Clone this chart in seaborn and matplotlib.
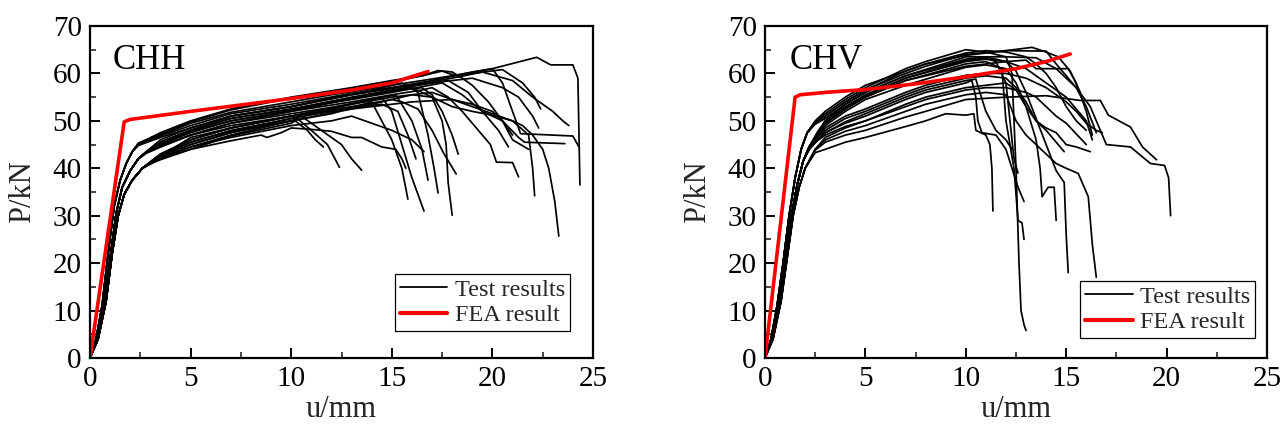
import matplotlib
matplotlib.use("Agg")
import matplotlib.pyplot as plt
from matplotlib.lines import Line2D
from matplotlib.ticker import MultipleLocator
import seaborn as sns
import pandas as pd

# ---------------- CHH panel: test curves (u in mm, P in kN) ----------------
chh_a_u = [0, 0.3, 0.6, 0.9, 1.2, 1.5, 1.8, 2.1, 2.4, 3.5, 5, 7, 10, 12, 15, 18, 20, 22.2, 22.9, 24.0, 24.25, 24.35]
chh_a_p = [0, 4, 11, 22, 32, 37.5, 41, 43.5, 45, 47, 49.5, 51.8, 54, 55.5, 57.5, 59.5, 61, 63.4, 61.8, 61.8, 59, 36.5]
chh_b_u = [0, 0.3, 0.6, 0.9, 1.2, 1.5, 1.8, 2.1, 2.4, 3.5, 5, 7, 10, 13, 15, 17, 19, 20, 20.5, 21, 21.4, 23, 24, 24.3]
chh_b_p = [0, 4, 11, 22, 32, 37.5, 41, 43.5, 45, 46.8, 49, 51.5, 53.5, 55.8, 57, 58.5, 60.3, 61, 58, 52, 47.3, 47, 46.8, 44.5]
chh_c_u = [0, 0.3, 0.6, 0.9, 1.2, 1.5, 1.8, 2.1, 2.4, 3.5, 5, 7, 10, 13, 15, 18, 19.5, 21, 22, 23, 23.5, 23.8]
chh_c_p = [0, 4, 11, 22, 32, 37.5, 41, 43.5, 44.8, 46.5, 48.5, 51, 53, 55.5, 56.8, 59, 60.3, 58.5, 55, 52, 50, 49]
chh_d_u = [0, 0.35, 0.7, 1.0, 1.3, 1.6, 2.0, 2.4, 2.8, 3.5, 5, 7, 10, 13, 15, 17.5, 18.5, 19.5, 20.5, 21.3, 21.6, 23.6]
chh_d_p = [0, 4, 11, 21, 30.5, 36, 39.5, 42, 43.5, 45.5, 48, 50.5, 52.5, 54.5, 56, 58, 55.5, 52, 50, 46.5, 45.5, 45.2]
chh_e_u = [0, 0.4, 0.8, 1.1, 1.4, 1.7, 2.1, 2.6, 3.2, 3.5, 5, 7, 10, 13, 15, 16, 17, 18, 19, 20, 21, 21.5, 22, 22.5, 22.8, 23.1, 23.3]
chh_e_p = [0, 4, 12, 22, 30, 34.5, 37.5, 40, 41.8, 42.5, 46.5, 48.5, 51, 53, 54.5, 55.5, 55, 53, 52, 51.2, 50, 49, 47, 44, 40, 33, 25.7]
chh_f_u = [0, 0.3, 0.6, 0.9, 1.2, 1.5, 1.8, 2.1, 2.4, 3.5, 5, 7, 10, 13, 15, 16.5, 17.5, 18.3, 19, 20.5, 21.5, 22.1, 22.4]
chh_f_p = [0, 4, 11, 22, 32, 37.5, 41, 43.5, 45.2, 47.5, 50, 52.5, 55, 57, 58.5, 59.5, 60.5, 59.3, 60, 60.8, 58, 55, 52.5]
chh_g_u = [0, 0.35, 0.7, 1.0, 1.3, 1.6, 2.0, 2.4, 2.8, 3.5, 5, 7, 10, 13, 15, 17, 19, 20.5, 21.3, 22, 22.3]
chh_g_p = [0, 4, 11, 21, 30.5, 36, 39.5, 42, 43.5, 45.5, 48, 50.5, 52.5, 55, 56.5, 58, 59, 57, 55, 51, 48.5]
chh_h_u = [0, 0.35, 0.7, 1.0, 1.3, 1.6, 2.0, 2.4, 2.8, 3.5, 5, 7, 10, 13, 15, 17, 18, 19, 20, 21, 21.8, 22, 22.1]
chh_h_p = [0, 4, 11, 21, 30.5, 36, 39.5, 42, 43.3, 44.8, 47, 49.5, 51.5, 53.5, 55, 56, 54.5, 53, 51.5, 50, 47, 40, 34.2]
chh_i_u = [0, 0.35, 0.7, 1.0, 1.3, 1.6, 2.0, 2.4, 2.8, 3.5, 5, 7, 10, 13, 15, 16.5, 17, 17.8, 18.5, 19.5, 19.9, 20.2, 21, 21.3]
chh_i_p = [0, 4, 11, 21, 30.5, 36, 39.5, 42, 43.3, 45, 47.5, 50, 52, 54, 55.5, 56.5, 57, 55, 52, 47, 45, 41.3, 41.2, 38.2]
chh_j_u = [0, 0.35, 0.7, 1.0, 1.3, 1.6, 2.0, 2.4, 2.8, 3.5, 5, 7, 10, 13, 15, 17, 17.8, 18.8, 19.5, 20.3, 20.8]
chh_j_p = [0, 4, 11, 21, 30.5, 36, 39.5, 42, 43.5, 46, 48.5, 51, 53, 55.5, 57, 58, 58.5, 56, 52, 48, 44.5]
chh_k_u = [0, 0.4, 0.8, 1.1, 1.4, 1.7, 2.1, 2.6, 3.2, 3.5, 5, 7, 10, 13, 15, 15.5, 16.3, 17, 17.6, 18.2]
chh_k_p = [0, 4, 12, 22, 30, 34.5, 37.5, 40, 41.8, 42.8, 45.5, 47.8, 50, 52.5, 54.5, 54, 52.5, 48, 43, 38.8]
chh_l_u = [0, 0.35, 0.7, 1.0, 1.3, 1.6, 2.0, 2.4, 2.8, 3.5, 5, 7, 10, 12, 14, 16, 17, 17.5, 17.7, 17.8, 18.0]
chh_l_p = [0, 4, 11, 21, 30.5, 36, 39.5, 42, 43.2, 44.5, 47, 49.5, 52, 53.8, 55.5, 57, 55, 50, 45, 37, 30.1]
chh_m_u = [0, 0.35, 0.7, 1.0, 1.3, 1.6, 2.0, 2.4, 2.8, 3.5, 5, 7, 10, 12, 14, 15.5, 16.3, 16.8, 17.1, 17.3]
chh_m_p = [0, 4, 11, 21, 30.5, 36, 39.5, 42, 43.5, 45.5, 48, 51, 53, 54.8, 56.5, 58, 56, 47, 40, 34.8]
chh_n_u = [0, 0.4, 0.8, 1.1, 1.4, 1.7, 2.1, 2.6, 3.2, 3.5, 5, 7, 10, 12, 14, 15.2, 16, 16.5, 16.8]
chh_n_p = [0, 4, 12, 22, 30, 34.5, 37.5, 40, 42, 43, 46, 48.5, 51, 52.8, 54.5, 55.5, 50, 44, 37.5]
chh_o_u = [0, 0.4, 0.8, 1.1, 1.4, 1.7, 2.1, 2.6, 3.2, 3.5, 5, 7, 10, 12, 13, 14, 15, 16, 16.6]
chh_o_p = [0, 4, 12, 22, 30, 34.5, 37.5, 40, 41.5, 42, 44.5, 46.5, 49, 50, 51, 49.5, 48, 46, 43.5]
chh_p_u = [0, 0.4, 0.8, 1.1, 1.4, 1.7, 2.1, 2.6, 3.2, 3.5, 5, 7, 10, 11.5, 13, 14.5, 15, 15.5, 16, 16.6]
chh_p_p = [0, 4, 12, 22, 30, 34.5, 37.5, 40, 42, 43, 46, 48.5, 51, 52, 53.5, 55, 52, 45, 38, 31]
chh_q_u = [0, 0.4, 0.8, 1.1, 1.4, 1.7, 2.1, 2.6, 3.2, 3.5, 5, 7, 10, 12, 14, 14.5, 15, 15.5, 15.8]
chh_q_p = [0, 4, 12, 22, 30, 34.5, 37.5, 40, 41.8, 42.5, 45, 47.5, 50, 51.5, 54, 50, 46, 40, 33.5]
chh_r_u = [0, 0.4, 0.8, 1.1, 1.4, 1.7, 2.1, 2.6, 3.2, 3.5, 5, 7, 10, 10.5, 11.5, 12.5, 13, 13.5]
chh_r_p = [0, 4, 12, 22, 30, 34.5, 37.5, 40, 41.8, 42.5, 45, 47.5, 50.5, 51, 48, 45, 42, 39.6]
chh_s_u = [0, 0.4, 0.8, 1.1, 1.4, 1.7, 2.1, 2.6, 3.2, 3.5, 5, 7, 10, 10.3, 11, 11.8, 12.4]
chh_s_p = [0, 4, 12, 22, 30, 34.5, 37.5, 40, 41.6, 42.3, 44.5, 47, 50, 50.5, 48, 45, 40.2]
chh_t_u = [0, 0.4, 0.8, 1.1, 1.4, 1.7, 2.1, 2.6, 3.2, 3.5, 5, 7, 10, 10.2, 10.8, 11.2, 11.6]
chh_t_p = [0, 4, 12, 22, 30, 34.5, 37.5, 40, 41.5, 42, 44, 46.8, 49.5, 50, 48, 46, 44.5]
chh_u_u = [0, 0.4, 0.8, 1.1, 1.4, 1.7, 2.1, 2.6, 3.2, 3.5, 5, 7, 8.5, 8.8, 9.5, 10, 11, 12, 13, 13.5, 14.5, 15.2, 15.5, 15.7]
chh_u_p = [0, 4, 12, 22, 30, 34.5, 37.5, 40, 41.3, 41.8, 44, 45.8, 47, 46.5, 47.5, 48.5, 48.2, 47.8, 46.5, 46.5, 44.5, 44, 42, 40]
chh_v_u = [0, 0.3, 0.6, 0.9, 1.2, 1.5, 1.8, 2.1, 2.4, 3.5, 5, 7, 10, 13, 15, 16.5, 17.3, 18, 18.5, 19, 19.8, 20.5, 21]
chh_v_p = [0, 4, 11, 22, 32, 37.5, 41, 43.5, 45.3, 47.2, 49.8, 52.3, 54.8, 56.8, 58.2, 59.5, 60.6, 60.3, 59, 57.5, 54, 50, 47]
chh_w_u = [0, 0.35, 0.7, 1.0, 1.3, 1.6, 2.0, 2.4, 2.8, 3.5, 5, 7, 10, 12, 14, 15.5, 16.5, 17, 17.5, 18, 18.3]
chh_w_p = [0, 4, 11, 21, 30.5, 36, 39.5, 42, 43.4, 45.2, 47.8, 50, 52.2, 54, 55.5, 56.5, 57, 55.5, 52, 47, 43]
chh_x_u = [0, 0.4, 0.8, 1.1, 1.4, 1.7, 2.1, 2.6, 3.2, 3.5, 5, 7, 10, 12, 13.5, 14.5, 15.3, 15.8, 16.2]
chh_x_p = [0, 4, 12, 22, 30, 34.5, 37.5, 40, 42, 42.8, 45.5, 48, 50.5, 52, 53, 53.5, 52, 47, 42]
chh_y_u = [0, 0.35, 0.7, 1.0, 1.3, 1.6, 2.0, 2.4, 2.8, 3.5, 5, 7, 10, 12, 14, 16, 18, 19, 20, 20.5, 21, 21.8]
chh_y_p = [0, 4, 11, 21, 30.5, 36, 39.5, 42, 43.2, 44.5, 47, 49, 51, 52, 53, 54, 54.5, 53.5, 52, 50, 46, 44]

# CHH FEA result
chh_fea_u = [0, 1.7, 2.0, 5, 10, 13, 15, 16.8]
chh_fea_p = [0, 49.8, 50.3, 52.0, 54.7, 56.5, 58.0, 60.4]

# ---------------- CHV panel: test curves ----------------
chv_v1_u = [0, 0.3, 0.6, 0.9, 1.2, 1.5, 1.8, 2.1, 2.5, 3, 4, 5, 7, 8, 10, 12, 13.3, 14, 14.6, 15.2, 15.7]
chv_v1_p = [0, 4, 11, 20, 30, 38, 44, 47.5, 50, 52, 55, 57.5, 60.5, 62, 63.8, 64.8, 65.5, 64.5, 63.5, 60.5, 56]
chv_v2_u = [0, 0.3, 0.6, 0.9, 1.2, 1.5, 1.8, 2.1, 2.5, 3, 4, 5, 7, 8, 10, 11, 12, 12.3, 12.4, 12.5, 12.65, 12.75, 12.9, 13.0]
chv_v2_p = [0, 4, 11, 20, 30, 38, 44, 47.5, 49.8, 51.5, 54.5, 57, 61, 62.5, 65, 64.5, 63.5, 60, 50, 40, 20, 10, 7, 5.8]
chv_v3_u = [0, 0.3, 0.6, 0.9, 1.2, 1.5, 1.8, 2.1, 2.5, 3, 4, 5, 7, 8, 10, 12, 14, 14.5, 15.5, 16.2, 16.7, 17, 18.2, 19.2, 19.9, 20.1, 20.2]
chv_v3_p = [0, 4, 11, 20, 30, 38, 44, 47.5, 49.5, 51, 54, 56.5, 60, 61.5, 64, 64.8, 64.7, 62, 57, 53, 48, 45, 44.5, 41, 40.6, 38, 30]
chv_v4_u = [0, 0.3, 0.6, 0.9, 1.2, 1.5, 1.8, 2.1, 2.5, 3, 4, 5, 7, 10, 12, 13.5, 14.5, 15.5, 16, 16.5]
chv_v4_p = [0, 4, 11, 20, 30, 38, 44, 47.5, 49.3, 50.5, 53.5, 56, 59.5, 63.5, 63.5, 63.3, 61, 57, 53, 47.5]
chv_v5_u = [0, 0.35, 0.7, 1.0, 1.3, 1.6, 1.9, 2.2, 2.6, 3, 4, 5, 7, 10, 11, 12, 12.5, 13, 14, 14.5, 14.9, 15.0, 15.1]
chv_v5_p = [0, 4, 11, 20, 29.5, 36.5, 41.5, 44.5, 47.5, 50, 53.5, 56, 59.5, 63, 63.5, 62.5, 60.5, 56, 45, 39.5, 37, 26, 18]
chv_v6_u = [0, 0.35, 0.7, 1.0, 1.3, 1.6, 1.9, 2.2, 2.6, 3, 4, 5, 7, 10, 11, 12, 13, 14, 15, 16, 16.3]
chv_v6_p = [0, 4, 11, 20, 29.5, 36.5, 41.5, 44.5, 47.5, 50, 53, 55.5, 59, 62.5, 63, 62.5, 61, 58, 55, 50, 46]
chv_v7_u = [0, 0.35, 0.7, 1.0, 1.3, 1.6, 1.9, 2.2, 2.6, 3, 4, 5, 7, 10, 11, 11.8, 12, 12.2, 12.4, 12.6, 12.8, 12.9]
chv_v7_p = [0, 4, 11, 20, 29.5, 36.5, 41.5, 44.5, 47, 49.5, 52.5, 55, 58.5, 62, 62.5, 61, 50, 45, 40, 29, 28.5, 25]
chv_v8_u = [0, 0.35, 0.7, 1.0, 1.3, 1.6, 1.9, 2.2, 2.6, 3, 4, 5, 7, 10, 11, 12, 13, 13.5, 15.1, 15.5, 16, 16.3]
chv_v8_p = [0, 4, 11, 20, 29.5, 36.5, 41.5, 44.5, 47, 49.5, 52.5, 55, 58.5, 61.5, 62, 62.5, 62.8, 61, 61, 58, 52, 47]
chv_v9_u = [0, 0.35, 0.7, 1.0, 1.3, 1.6, 1.9, 2.2, 2.6, 3, 4, 5, 7, 10, 11, 12, 12.5, 13, 13.5, 13.7, 13.8, 14.1, 14.4, 14.5]
chv_v9_p = [0, 4, 11, 20, 29.5, 36.5, 41.5, 44.5, 46.8, 49, 52, 54.5, 57.5, 61.3, 61.8, 61, 58, 53, 46, 40, 34, 36, 36, 29]
chv_v10_u = [0, 0.3, 0.6, 0.9, 1.2, 1.5, 1.8, 2.1, 2.5, 3, 4, 5, 7, 8, 10, 11, 12, 13, 13.5, 14, 14.5, 15, 15.5, 16]
chv_v10_p = [0, 4, 11, 20, 30, 38, 44, 47.5, 49.5, 51, 54, 56.5, 60.5, 62, 64.3, 64.8, 64.5, 63.5, 62, 60, 57, 53, 50, 48]
chv_v11_u = [0, 0.35, 0.7, 1.0, 1.3, 1.6, 1.9, 2.2, 2.6, 3, 4, 5, 7, 10, 11, 11.5, 12, 12.2, 12.4, 12.6]
chv_v11_p = [0, 4, 11, 20, 29.5, 36.5, 41.5, 44.5, 47.2, 49.5, 52.8, 55.3, 59, 62.8, 63.2, 62.5, 58, 50, 42, 39]
chv_w1_u = [0, 0.4, 0.8, 1.1, 1.4, 1.7, 2.0, 2.5, 3, 4, 5, 7, 8, 9, 10, 10.4, 10.5, 11, 11.2, 11.3, 11.35]
chv_w1_p = [0, 4, 12, 21, 30, 36, 40, 43.3, 44, 45.5, 46.5, 48.8, 50, 51.5, 51.2, 51.5, 48, 47, 45, 40, 31]
chv_w2_u = [0, 0.4, 0.8, 1.1, 1.4, 1.7, 2.0, 2.5, 3, 4, 5, 7, 8, 10, 12, 14, 15, 15.7, 16.7, 17.1, 18.2, 18.8, 19.5]
chv_w2_p = [0, 4, 12, 21, 30, 36, 40, 43.8, 45.5, 47, 48, 50.8, 52, 54.5, 55, 55.3, 54.7, 54.3, 54.3, 51.2, 48.7, 44.5, 41.8]
chv_w3_u = [0, 0.4, 0.8, 1.1, 1.4, 1.7, 2.0, 2.5, 3, 4, 5, 7, 8, 10, 11, 12, 12.5, 13, 13.5, 14, 14.5, 15, 15.6, 16.1, 16.3, 16.5]
chv_w3_p = [0, 4, 12, 21, 30, 36, 40, 44, 46, 47.8, 49, 52, 53.5, 55.5, 56, 55.5, 50, 47, 45, 43, 41, 40, 38.9, 34, 24, 17]
chv_w4_u = [0, 0.35, 0.7, 1.0, 1.3, 1.6, 1.9, 2.2, 2.6, 3, 4, 5, 7, 8, 10, 11, 12, 12.5, 13, 13.5, 14, 14.5, 14.9]
chv_w4_p = [0, 4, 11, 20, 29.5, 36.5, 41.5, 44, 45.8, 47, 48.8, 50, 53.5, 55, 57, 57.5, 58, 56.5, 53, 50, 48, 45.5, 43.5]
chv_w5_u = [0, 0.35, 0.7, 1.0, 1.3, 1.6, 1.9, 2.2, 2.6, 3, 4, 5, 7, 8, 10, 10.3, 10.5, 10.6, 10.8, 11.5, 12, 12.3, 12.6, 12.9]
chv_w5_p = [0, 4, 11, 20, 29.5, 36.5, 41.5, 44, 46, 47.5, 49.5, 51, 54.5, 56, 58, 58.5, 55, 50, 47.5, 47, 44, 40, 36, 33]
chv_w6_u = [0, 0.35, 0.7, 1.0, 1.3, 1.6, 1.9, 2.2, 2.6, 3, 4, 5, 7, 8, 10, 11, 12, 12.5, 13, 13.5, 14, 14.5, 15, 15.5, 16.2]
chv_w6_p = [0, 4, 11, 20, 29.5, 36.5, 41.5, 44.5, 46.5, 48, 50.5, 52, 55.5, 57, 59, 59.5, 59, 57, 54, 50, 48.5, 47.5, 45, 44.5, 43.5]
chv_w7_u = [0, 0.35, 0.7, 1.0, 1.3, 1.6, 1.9, 2.2, 2.6, 3, 4, 5, 7, 8, 10, 11, 12, 13, 14, 15, 15.5, 16, 16.5, 16.8]
chv_w7_p = [0, 4, 11, 20, 29.5, 36.5, 41.5, 44.5, 46.8, 48.5, 51, 52.5, 56, 57.5, 59.6, 60, 60, 59, 57, 54, 52, 49.5, 48, 47.5]
chv_w8_u = [0, 0.4, 0.8, 1.1, 1.4, 1.7, 2.0, 2.5, 3, 4, 5, 7, 8, 10, 11, 12, 13, 13.5, 14, 14.5, 15, 16]
chv_w8_p = [0, 4, 12, 21, 30, 36, 40, 44, 46.5, 48.5, 50, 53, 54.5, 56.5, 57, 57, 56, 55, 53, 51, 49.5, 45]
chv_w9_u = [0, 0.35, 0.7, 1.0, 1.3, 1.6, 1.9, 2.2, 2.6, 3, 4, 5, 7, 8, 10, 10.5, 10.7, 11, 11.5, 12, 12.3]
chv_w9_p = [0, 4, 11, 20, 29.5, 36.5, 41.5, 44, 46, 47.5, 49.8, 51.5, 55, 56.5, 58.5, 58.8, 56, 52, 48, 46, 44]

# CHV FEA result
chv_fea_u = [0, 1.5, 1.75, 3, 5, 7.5, 10, 12.5, 14, 15.2]
chv_fea_p = [0, 55.0, 55.5, 56.0, 56.6, 57.8, 59.3, 61.0, 62.5, 64.1]

# axis ticks / labels
x_ticks = [0, 5, 10, 15, 20, 25]
y_ticks = [0, 10, 20, 30, 40, 50, 60, 70]
panel_titles = ["CHH", "CHV"]
legend_labels = ["Test results", "FEA result"]
x_label = "u/mm"
y_label = "P/kN"

chh_tests = [
    (chh_a_u, chh_a_p), (chh_b_u, chh_b_p), (chh_c_u, chh_c_p), (chh_d_u, chh_d_p),
    (chh_e_u, chh_e_p), (chh_f_u, chh_f_p), (chh_g_u, chh_g_p), (chh_h_u, chh_h_p),
    (chh_i_u, chh_i_p), (chh_j_u, chh_j_p), (chh_k_u, chh_k_p), (chh_l_u, chh_l_p),
    (chh_m_u, chh_m_p), (chh_n_u, chh_n_p), (chh_o_u, chh_o_p), (chh_p_u, chh_p_p),
    (chh_q_u, chh_q_p), (chh_r_u, chh_r_p), (chh_s_u, chh_s_p), (chh_t_u, chh_t_p),
    (chh_u_u, chh_u_p), (chh_v_u, chh_v_p), (chh_w_u, chh_w_p), (chh_x_u, chh_x_p),
    (chh_y_u, chh_y_p),
]
chv_tests = [
    (chv_v1_u, chv_v1_p), (chv_v2_u, chv_v2_p), (chv_v3_u, chv_v3_p), (chv_v4_u, chv_v4_p),
    (chv_v5_u, chv_v5_p), (chv_v6_u, chv_v6_p), (chv_v7_u, chv_v7_p), (chv_v8_u, chv_v8_p),
    (chv_v9_u, chv_v9_p), (chv_v10_u, chv_v10_p), (chv_v11_u, chv_v11_p),
    (chv_w1_u, chv_w1_p), (chv_w2_u, chv_w2_p), (chv_w3_u, chv_w3_p),
    (chv_w4_u, chv_w4_p), (chv_w5_u, chv_w5_p), (chv_w6_u, chv_w6_p), (chv_w7_u, chv_w7_p),
    (chv_w8_u, chv_w8_p), (chv_w9_u, chv_w9_p),
]


def to_frame(curves):
    rows = []
    for i, (us, ps) in enumerate(curves):
        for k, (u, p) in enumerate(zip(us, ps)):
            rows.append({"curve": i, "order": k, "u": u, "P": p})
    return pd.DataFrame(rows)


sns.set_style("ticks")
plt.rcParams["font.family"] = ["Liberation Serif", "DejaVu Serif"]

fig = plt.figure(figsize=(12.8, 4.28), dpi=100)
ax_l = fig.add_axes([90 / 1280, 1 - 358 / 428, 503 / 1280, 332 / 428])
ax_r = fig.add_axes([765 / 1280, 1 - 358 / 428, 502 / 1280, 332 / 428])

panels = [
    (ax_l, chh_tests, chh_fea_u, chh_fea_p, panel_titles[0], 0.044, (0.954, 0.081)),
    (ax_r, chv_tests, chv_fea_u, chv_fea_p, panel_titles[1], 0.050, (0.976, 0.060)),
]

for ax, tests, fu, fp, title, tx, lg_anchor in panels:
    df = to_frame(tests)
    sns.lineplot(data=df, x="u", y="P", units="curve", estimator=None, sort=False,
                 color="black", linewidth=1.25, ax=ax, legend=False)
    fea = pd.DataFrame({"u": fu, "P": fp})
    sns.lineplot(data=fea, x="u", y="P", sort=False, estimator=None,
                 color="#ff0000", linewidth=2.6, ax=ax, legend=False)

    ax.set_xlim(0, 25)
    ax.set_ylim(0, 70)
    ax.set_xticks(x_ticks)
    ax.set_yticks(y_ticks)
    ax.xaxis.set_minor_locator(MultipleLocator(2.5))
    ax.yaxis.set_minor_locator(MultipleLocator(5))
    ax.tick_params(axis="both", which="major", direction="in", length=7, width=1.4,
                   labelsize=21, pad=6, top=False, right=False, colors="black")
    ax.tick_params(axis="both", which="minor", direction="in", length=4, width=1.2,
                   top=False, right=False)
    for sp in ax.spines.values():
        sp.set_visible(True)
        sp.set_linewidth(1.6)
        sp.set_color("black")
    ax.set_xlabel(x_label, fontsize=22, labelpad=2)
    ax.set_ylabel(y_label, fontsize=22, labelpad=11)

    ax.text(tx, 0.895, title, transform=ax.transAxes, ha="left", va="center",
            fontsize=25, color="black")

    handles = [Line2D([0], [0], color="black", linewidth=1.3),
               Line2D([0], [0], color="#ff0000", linewidth=3.0)]
    leg = ax.legend(handles, legend_labels, loc="lower right", bbox_to_anchor=lg_anchor,
                    borderaxespad=0, fontsize=17.5, frameon=True, fancybox=False,
                    edgecolor="black", framealpha=1, handlelength=1.95,
                    handletextpad=0.3, labelspacing=0.15, borderpad=0.2)
    leg.get_frame().set_linewidth(0.9)

fig.savefig("out.png", dpi=100)
